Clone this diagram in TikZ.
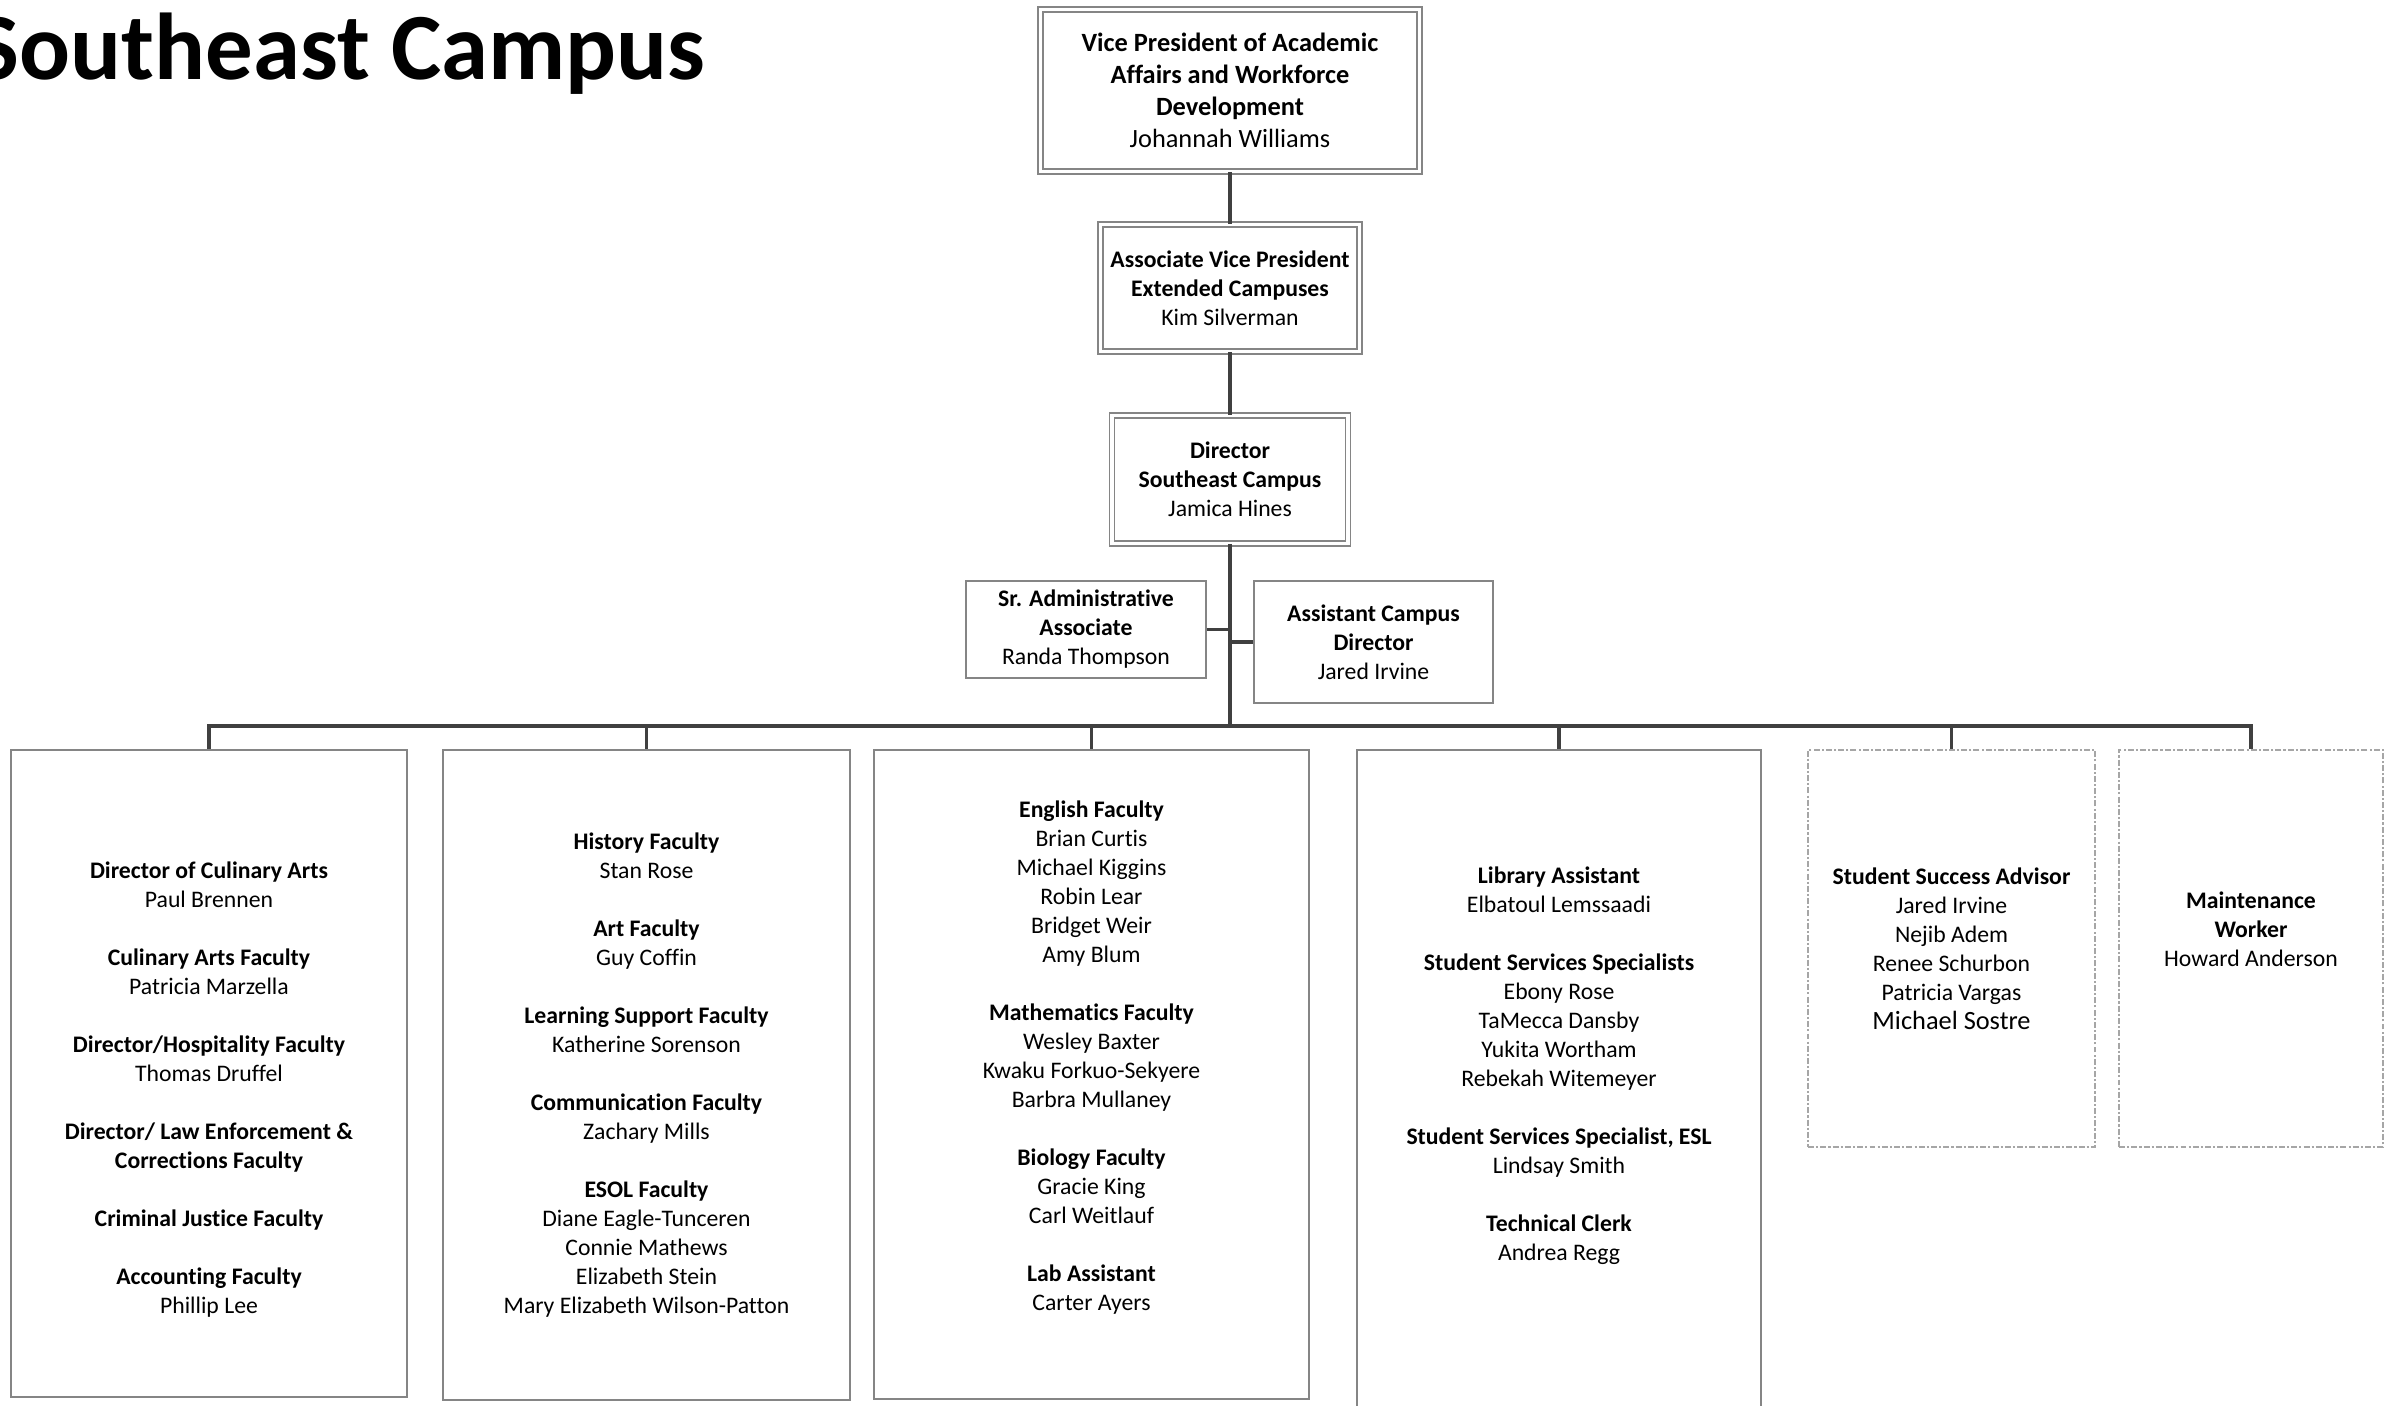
\documentclass[tikz,border=0pt]{standalone}
\usepackage{fontspec}
\setmainfont{Carlito}[Ligatures=NoCommon]
\usepackage{tikz}
\usetikzlibrary{positioning,calc}
\definecolor{ink}{HTML}{000000}
\definecolor{linegray}{HTML}{404040}
\definecolor{boxgray}{HTML}{858585}
\definecolor{dashgray}{HTML}{A6A6A6}
\newcommand{\grp}{\\[8.25pt]}
\tikzset{
  orgtext/.style={align=center,text=ink,inner sep=2pt,
                  font=\fontsize{6.75}{8.25}\selectfont},
  topbox/.style={orgtext,draw=boxgray,line width=0.4pt,
                 double=white,double distance=1pt},
  plainbox/.style={orgtext,draw=boxgray,line width=0.45pt,fill=white},
  unitbox/.style={plainbox,anchor=north},
  dashbox/.style={orgtext,draw=dashgray,line width=0.45pt,anchor=north,
                  dash pattern=on 1.7pt off 0.6pt on 0.6pt off 0.6pt},
  link/.style={draw=linegray,line width=1.0pt}
}

\begin{document}
\begin{tikzpicture}[x=1cm,y=1cm]
    \path[use as bounding box,fill=white] (0,0) rectangle (23.92,-14.05);
    \node[font=\fontsize{27}{32}\selectfont\bfseries,anchor=base east,
          inner sep=0pt] (title) at (7.06,-0.79) {Southeast Campus};

    \node[topbox,minimum width=3.79cm,minimum height=1.62cm,
          font=\fontsize{7.5}{9.1}\selectfont] (vp) at (12.30,-0.905)
      {\textbf{Vice President of Academic}\\\textbf{Affairs and Workforce}\\
       \textbf{Development}\\Johannah Williams};
    \node[topbox,minimum width=2.59cm,minimum height=1.27cm] (avp) at (12.30,-2.88)
      {\textbf{Associate Vice President}\\\textbf{Extended Campuses}\\Kim Silverman};
    \node[topbox,minimum width=2.36cm,minimum height=1.28cm] (dir) at (12.30,-4.795)
      {\textbf{Director}\\\textbf{Southeast Campus}\\Jamica Hines};
    \node[plainbox,minimum width=2.40cm,minimum height=0.97cm] (sradmin) at (10.86,-6.295)
      {\textbf{Sr. Administrative}\\\textbf{Associate}\\Randa Thompson};
    \node[plainbox,minimum width=2.39cm,minimum height=1.22cm] (asstdir) at (13.735,-6.42)
      {\textbf{Assistant Campus}\\\textbf{Director}\\Jared Irvine};

    \node[unitbox,minimum width=3.96cm,minimum height=6.47cm] (culinary) at (2.09,-7.49)
      {\strut\\\textbf{Director of Culinary Arts}\\Paul Brennen\grp
       \textbf{Culinary Arts Faculty}\\Patricia Marzella\grp
       \textbf{Director/Hospitality Faculty}\\Thomas Druffel\grp
       \textbf{Director/ Law Enforcement \&}\\\textbf{Corrections Faculty}\grp
       \textbf{Criminal Justice Faculty}\grp
       \textbf{Accounting Faculty}\\Phillip Lee};
    \node[unitbox,minimum width=4.07cm,minimum height=6.50cm] (humanities) at (6.465,-7.49)
      {\textbf{History Faculty}\\Stan Rose\grp
       \textbf{Art Faculty}\\Guy Coffin\grp
       \textbf{Learning Support Faculty}\\Katherine Sorenson\grp
       \textbf{Communication Faculty}\\Zachary Mills\grp
       \textbf{ESOL Faculty}\\Diane Eagle-Tunceren\\Connie Mathews\\Elizabeth Stein\\
       Mary Elizabeth Wilson-Patton};
    \node[unitbox,minimum width=4.35cm,minimum height=6.49cm] (sciences) at (10.915,-7.49)
      {\textbf{English Faculty}\\Brian Curtis\\Michael Kiggins\\Robin Lear\\Bridget Weir\\
       Amy Blum\grp
       \textbf{Mathematics Faculty}\\Wesley Baxter\\Kwaku Forkuo-Sekyere\\Barbra Mullaney\grp
       \textbf{Biology Faculty}\\Gracie King\\Carl Weitlauf\grp
       \textbf{Lab Assistant}\\Carter Ayers\\\strut};
    \node[unitbox,minimum width=4.04cm,minimum height=6.66cm] (services) at (15.59,-7.49)
      {\textbf{Library Assistant}\\Elbatoul Lemssaadi\grp
       \textbf{Student Services Specialists}\\Ebony Rose\\TaMecca Dansby\\Yukita Wortham\\
       Rebekah Witemeyer\grp
       \textbf{Student Services Specialist, ESL}\\Lindsay Smith\grp
       \textbf{Technical Clerk}\\Andrea Regg\\\strut};
    \node[dashbox,minimum width=2.87cm,minimum height=3.97cm] (advisor) at (19.515,-7.49)
      {\textbf{Student Success Advisor}\\Jared Irvine\\Nejib Adem\\Renee Schurbon\\
       Patricia Vargas\\{\fontsize{7.5}{8.4}\selectfont Michael Sostre}};
    \node[dashbox,minimum width=2.64cm,minimum height=3.97cm] (maint) at (22.51,-7.49)
      {\textbf{Maintenance}\\\textbf{Worker}\\Howard Anderson\\\strut};

    \coordinate (bus) at (12.30,-7.26);
    \draw[link] (vp) -- (avp);
    \draw[link] (avp) -- (dir);
    \draw[link] (dir) -- (bus);
    \draw[link] (sradmin.east) -- (sradmin.east -| dir.south);
    \draw[link] (asstdir.west) -- (asstdir.west -| dir.south);
    \foreach \unit in {culinary,humanities,sciences,services,advisor,maint}
      \draw[link] (bus) -| (\unit.north);
  \end{tikzpicture}
\end{document}
